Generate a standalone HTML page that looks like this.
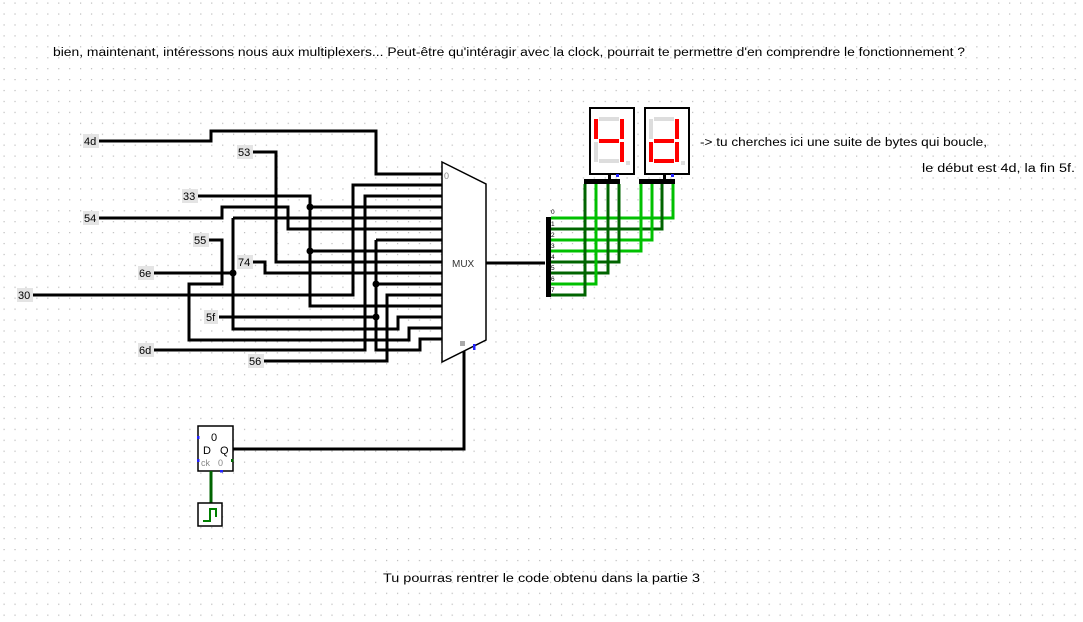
<!DOCTYPE html>
<html><head><meta charset="utf-8"><style>html,body{margin:0;padding:0;background:#fff}svg{display:block}</style></head><body>
<svg width="1083" height="622" xmlns="http://www.w3.org/2000/svg" font-family="Liberation Sans, sans-serif">
<defs><pattern id="g" x="3.5" y="2.5" width="10.93" height="10.93" patternUnits="userSpaceOnUse"><rect width="1.2" height="1.2" fill="#bbb"/></pattern></defs>
<rect width="1083" height="622" fill="#fff"/>
<rect width="1083" height="622" fill="url(#g)"/>
<g font-size="11.5" fill="#000">
<text x="53" y="56" textLength="912" lengthAdjust="spacingAndGlyphs">bien, maintenant, intéressons nous aux multiplexers... Peut-être qu'intéragir avec la clock, pourrait te permettre d'en comprendre le fonctionnement ?</text>
<text x="700" y="146" textLength="287" lengthAdjust="spacingAndGlyphs">-&gt; tu cherches ici une suite de bytes qui boucle,</text>
<text x="922" y="172" textLength="153" lengthAdjust="spacingAndGlyphs">le début est 4d, la fin 5f.</text>
<text x="383" y="582" textLength="317" lengthAdjust="spacingAndGlyphs">Tu pourras rentrer le code obtenu dans la partie 3</text>
</g>
<g fill="none" stroke="#000" stroke-width="3" stroke-linejoin="miter">
<polyline points="99,141 211,141 211,131 376,131 376,174 442,174"/>
<polyline points="253,152 276,152 276,262 442,262"/>
<polyline points="198,196 310,196 310,306 442,306"/>
<polyline points="310,207 442,207"/><polyline points="310,251 442,251"/>
<polyline points="99,218 222,218 222,207 288,207 288,229 442,229"/>
<polyline points="209,240 222,240 222,284 189,284 189,340 409,340 409,328 442,328"/>
<polyline points="154,273 233,273"/>
<polyline points="233,218 233,329 398,329 398,317 442,317"/>
<polyline points="233,218 442,218"/>
<polyline points="253,262 265,262 265,273 442,273"/>
<polyline points="33,295 353,295 353,185 442,185"/>
<polyline points="219,317 376,317"/>
<polyline points="376,240 376,350 420,350 420,339 442,339"/>
<polyline points="376,240 442,240"/><polyline points="376,284 442,284"/>
<polyline points="264,361 387,361 387,295 442,295"/>
<polyline points="154,350 365,350 365,196 442,196"/>
<polyline points="486,263 545,263"/>
<polyline points="233,449 464,449 464,350"/>
</g>
<g fill="#000"><circle cx="310" cy="207" r="3.5"/><circle cx="310" cy="251" r="3.5"/><circle cx="233" cy="273" r="3.5"/><circle cx="376" cy="284" r="3.5"/><circle cx="376" cy="317" r="3.5"/></g>
<g font-size="11" fill="#000">
<rect x="83" y="134" width="16" height="14" fill="#e4e4e4"/><text x="84" y="145">4d</text>
<rect x="237" y="145" width="16" height="14" fill="#e4e4e4"/><text x="238" y="156">53</text>
<rect x="182" y="189" width="16" height="14" fill="#e4e4e4"/><text x="183" y="200">33</text>
<rect x="83" y="211" width="16" height="14" fill="#e4e4e4"/><text x="84" y="222">54</text>
<rect x="193" y="233" width="16" height="14" fill="#e4e4e4"/><text x="194" y="244">55</text>
<rect x="138" y="266" width="16" height="14" fill="#e4e4e4"/><text x="139" y="277">6e</text>
<rect x="237" y="255" width="16" height="14" fill="#e4e4e4"/><text x="238" y="266">74</text>
<rect x="17" y="288" width="16" height="14" fill="#e4e4e4"/><text x="18" y="299">30</text>
<rect x="204" y="310" width="14" height="14" fill="#e4e4e4"/><text x="206" y="321">5f</text>
<rect x="138" y="343" width="16" height="14" fill="#e4e4e4"/><text x="139" y="354">6d</text>
<rect x="248" y="354" width="16" height="14" fill="#e4e4e4"/><text x="249" y="365">56</text>
</g>
<polygon points="442,162 486,184 486,340 442,362" fill="#fff" stroke="#000" stroke-width="1.5"/>
<text x="444" y="179" font-size="9" fill="#888">0</text>
<text x="452" y="267" font-size="10" fill="#333">MUX</text>
<rect x="460" y="341" width="5" height="5" fill="#aaa"/>
<rect x="473" y="344" width="2.5" height="6" fill="#22f"/>
<rect x="198" y="426" width="35" height="45" fill="#fff" stroke="#000" stroke-width="1.5"/>
<text x="211" y="441" font-size="11">0</text><text x="203" y="454" font-size="11">D</text><text x="220" y="454" font-size="11">Q</text>
<text x="201" y="466" font-size="9" fill="#888">ck</text><text x="218" y="466" font-size="9" fill="#888">0</text>
<rect x="197" y="436" width="2.5" height="3" fill="#22f"/><rect x="197" y="459" width="2.5" height="3" fill="#22f"/><rect x="220" y="470" width="3" height="2.5" fill="#22f"/><rect x="231" y="459" width="2.5" height="3" fill="#060"/>
<line x1="211" y1="471" x2="211" y2="503" stroke="#006400" stroke-width="3"/>
<rect x="198" y="503" width="24" height="23" fill="#fff" stroke="#000" stroke-width="1.5"/>
<polyline points="203,521 210,521 210,509 216,509 216,517" fill="none" stroke="#008000" stroke-width="2"/>
<!-- splitter -->
<rect x="546" y="217" width="5" height="80" fill="#000"/>
<g font-size="6.5" fill="#000"><text x="551" y="214">0</text><text x="551" y="226">1</text><text x="551" y="237">2</text><text x="551" y="248">3</text><text x="551" y="259">4</text><text x="551" y="270">5</text><text x="551" y="281">6</text><text x="551" y="292">7</text></g>
<g fill="none" stroke-width="3">
<polyline points="551,218 673,218 673,184" stroke="#00c000"/>
<polyline points="551,229 662,229 662,184" stroke="#006400"/>
<polyline points="551,240 652,240 652,184" stroke="#00c000"/>
<polyline points="551,251 641,251 641,184" stroke="#00c000"/>
<polyline points="551,262 619,262 619,184" stroke="#006400"/>
<polyline points="551,273 608,273 608,184" stroke="#006400"/>
<polyline points="551,284 596,284 596,184" stroke="#00c000"/>
<polyline points="551,295 585,295 585,184" stroke="#006400"/>
</g>
<rect x="584" y="179" width="36" height="5" fill="#000"/><rect x="608" y="174" width="3" height="5" fill="#000"/>
<rect x="639" y="179" width="36" height="5" fill="#000"/><rect x="663" y="174" width="3" height="5" fill="#000"/>
<rect x="590" y="108" width="44" height="66" fill="#fff" stroke="#000" stroke-width="2"/>
<rect x="645" y="108" width="44" height="66" fill="#fff" stroke="#000" stroke-width="2"/>
<g transform="translate(590,108)">
<rect x="9" y="9" width="20" height="4" fill="#ddd"/><rect x="4" y="11" width="4" height="20" fill="#f00"/><rect x="30" y="11" width="4" height="20" fill="#f00"/>
<rect x="9" y="31" width="20" height="4" fill="#f00"/><rect x="4" y="34" width="4" height="20" fill="#ddd"/><rect x="30" y="34" width="4" height="20" fill="#f00"/>
<rect x="9" y="51" width="20" height="4" fill="#ddd"/><rect x="36" y="53" width="4" height="4" fill="#ddd"/></g>
<g transform="translate(645,108)">
<rect x="9" y="9" width="20" height="4" fill="#ddd"/><rect x="4" y="11" width="4" height="20" fill="#ddd"/><rect x="30" y="11" width="4" height="20" fill="#f00"/>
<rect x="9" y="31" width="20" height="4" fill="#f00"/><rect x="4" y="34" width="4" height="20" fill="#f00"/><rect x="30" y="34" width="4" height="20" fill="#f00"/>
<rect x="9" y="51" width="20" height="4" fill="#f00"/><rect x="36" y="53" width="4" height="4" fill="#ddd"/></g>
<rect x="616" y="174" width="3" height="3" fill="#22f"/><rect x="671" y="174" width="3" height="3" fill="#22f"/>
</svg>
</body></html>
